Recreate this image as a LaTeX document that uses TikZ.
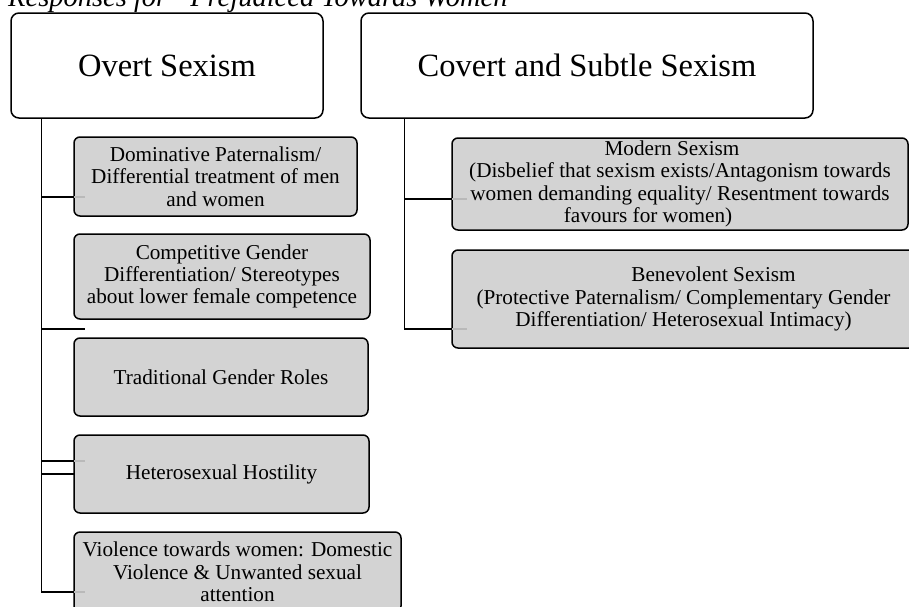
\documentclass[tikz,border=0pt]{standalone}
\usepackage{fontspec}
\setmainfont{Liberation Serif}
\definecolor{boxgray}{RGB}{211,211,211}
\definecolor{stubgray}{RGB}{185,185,185}
\begin{document}
\begin{tikzpicture}[x=1pt,y=-1pt,
 parent/.style={draw=black,line width=1.5pt,rounded corners=8pt,fill=white,inner sep=0pt,font=\fontsize{32.5}{36}\selectfont},
 child/.style={draw=black,line width=1.5pt,rounded corners=6pt,fill=boxgray,inner sep=0pt,align=center,font=\fontsize{21.2}{22.3}\selectfont},
 conn/.style={line width=1.4pt,black},
 stub/.style={line width=1.4pt,stubgray}]
\useasboundingbox (0,0) rectangle (909,606);
\clip (0,0) rectangle (909,606);
\fill[white] (0,0) rectangle (909,606);
\node[anchor=base west,inner sep=0pt,font=\itshape\fontsize{28.5}{30}\selectfont] (title) at (8,6) {Responses for “Prejudiced Towards Women”};
\node[parent,minimum width=312pt,minimum height=105pt] (ov) at (167,65.5) {Overt Sexism};
\node[parent,minimum width=452pt,minimum height=105pt] (cv) at (587,65.5) {Covert and Subtle Sexism};
\node[child,minimum width=283pt,minimum height=79pt] (l1) at (215.5,176.5) {Dominative Paternalism/\\Differential treatment of men\\and women};
\node[child,minimum width=296pt,minimum height=85pt] (l2) at (222,276.5) {Competitive Gender\\Differentiation/ Stereotypes\\about lower female competence};
\node[child,minimum width=294pt,minimum height=78pt] (l3) at (221,377) {Traditional Gender Roles};
\node[child,minimum width=295pt,minimum height=78pt] (l4) at (221.5,474) {Heterosexual Hostility};
\node[child,minimum width=327pt,minimum height=80pt] (l5) at (237.5,572) {Violence towards women: Domestic\\Violence \& Unwanted sexual\\attention};
\node[child,minimum width=456pt,minimum height=92pt] (r1) at (680,184) {Modern Sexism\hspace*{16pt}\\(Disbelief that sexism exists/Antagonism towards\\women demanding equality/ Resentment towards\\favours for women)\hspace*{64pt}};
\node[child,minimum width=463pt,minimum height=98pt] (r2) at (683.5,299) {\hspace*{60pt}Benevolent Sexism\\(Protective Paternalism/ Complementary Gender\\Differentiation/ Heterosexual Intimacy)};
% left connectors
\coordinate (L0) at ([xshift=31pt]ov.south west);
\coordinate (a1) at (74,197);
\coordinate (a2) at (85,329);
\coordinate (a3) at (74,461);
\coordinate (a4) at (74,474);
\coordinate (a5) at (74,592);
\draw[conn] (L0) |- (a5);
\draw[conn] (a1 -| L0) -- (a1);
\draw[conn] (a2 -| L0) -- (a2);
\draw[conn] (a3 -| L0) -- (a3);
\draw[conn] (a4 -| L0) -- (a4);
\draw[stub] (a1) -- ++(11,0);
\draw[stub] (a3) -- ++(11,0);
\draw[stub] (a5) -- ++(11,0);
% right connectors
\coordinate (R0) at ([xshift=44pt]cv.south west);
\coordinate (c1) at (452,199);
\coordinate (c2) at (452,329);
\draw[conn] (R0) |- (c2);
\draw[conn] (c1 -| R0) -- (c1);
\draw[stub] (c1) -- ++(15,0);
\draw[stub] (c2) -- ++(15,0);
\end{tikzpicture}
\end{document}
